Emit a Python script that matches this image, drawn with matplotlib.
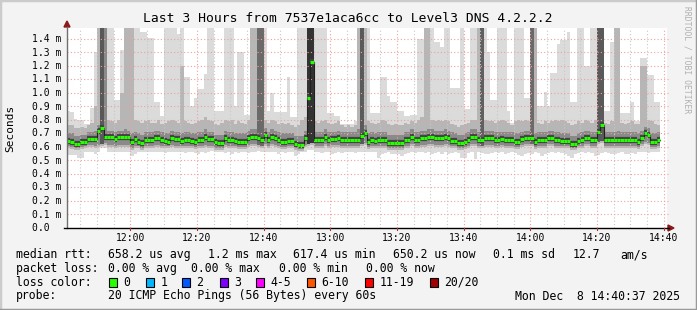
import numpy as np
import matplotlib
matplotlib.use("Agg")
import matplotlib.pyplot as plt
from matplotlib.patches import Rectangle, Polygon

W, H = 697, 310

# one value per minute from 11:41, in microseconds
median = [
    645, 640, 622, 622, 640, 640, 660, 660, 660, 720,
    742, 676, 676, 672, 657, 672, 672, 672, 672, 640,
    657, 640, 627, 652, 652, 652, 664, 664, 652, 647,
    640, 664, 657, 657, 647, 652, 652, 647, 640, 652,
    652, 672, 657, 657, 635, 632, 632, 664, 652, 652,
    647, 640, 640, 640, 664, 672, 672, 664, 652, 689,
    652, 672, 664, 652, 640, 640, 644, 644, 620, 615,
    615, 667, 960, 1230, 652, 652, 652, 677, 652, 657,
    657, 664, 652, 652, 652, 652, 652, 652, 682, 700,
    640, 652, 647, 652, 652, 652, 632, 632, 632, 632,
    627, 652, 652, 677, 652, 652, 664, 664, 672, 672,
    664, 664, 664, 677, 664, 647, 647, 632, 632, 640,
    652, 677, 677, 652, 652, 664, 664, 664, 652, 652,
    657, 652, 652, 652, 640, 640, 657, 669, 669, 669,
    640, 652, 652, 652, 669, 669, 652, 652, 647, 647,
    647, 622, 622, 647, 652, 669, 669, 652, 652, 710,
    760, 652, 652, 652, 652, 652, 652, 652, 652, 652,
    652, 640, 669, 700, 689, 640, 640, 652,
]
ping_max = [
    870, 860, 810, 800, 800, 770, 770, 890, 1300, 1500,
    1500, 1150, 1500, 1500, 950, 950, 1320, 1500, 1500, 1500,
    1500, 1500, 1450, 1450, 1410, 1410, 930, 930, 830, 1500,
    1500, 1500, 1500, 1440, 1500, 1120, 1120, 900, 960, 1030,
    1030, 1140, 1500, 1500, 870, 870, 870, 1500, 1500, 1500,
    900, 1300, 1300, 840, 840, 1500, 1500, 1500, 1500, 1500,
    870, 1000, 860, 860, 860, 860, 1120, 820, 820, 1500,
    1500, 1500, 1500, 1500, 1500, 1500, 1500, 1500, 850, 850,
    830, 830, 770, 770, 770, 770, 790, 1500, 1500, 1500,
    1500, 850, 850, 850, 1120, 1120, 980, 930, 930, 870,
    870, 830, 830, 840, 840, 1400, 1400, 1500, 1500, 1500,
    1380, 1380, 1340, 1500, 1500, 1040, 1040, 1040, 1500, 880,
    880, 1500, 1500, 1500, 1500, 1500, 1300, 950, 950, 1500,
    1500, 1500, 870, 780, 1500, 1500, 1500, 960, 960, 1500,
    1500, 900, 900, 1010, 900, 1150, 1150, 1360, 1390, 1390,
    1450, 930, 930, 1500, 1500, 1200, 1200, 1500, 1500, 1500,
    1500, 870, 870, 1380, 1500, 1500, 850, 850, 850, 930,
    790, 790, 1260, 1260, 1130, 1130, 930, 930,
]
ping_hi = [
    760, 760, 740, 740, 750, 740, 760, 780, 900, 1500,
    1500, 1500, 800, 790, 780, 800, 1000, 1500, 1500, 1500,
    800, 790, 780, 790, 800, 780, 780, 800, 770, 780,
    790, 800, 790, 780, 1200, 790, 780, 770, 780, 790,
    800, 820, 800, 790, 770, 760, 780, 800, 790, 800,
    770, 790, 780, 770, 800, 1500, 1500, 1500, 1500, 800,
    780, 800, 790, 770, 780, 770, 780, 760, 750, 760,
    800, 820, 1500, 1500, 790, 780, 790, 800, 780, 770,
    780, 790, 760, 750, 760, 750, 760, 1500, 1500, 1500,
    790, 780, 770, 780, 800, 790, 770, 760, 770, 760,
    760, 780, 770, 790, 780, 800, 820, 1500, 1500, 800,
    790, 800, 790, 800, 790, 770, 760, 750, 760, 770,
    780, 800, 800, 1500, 1500, 800, 790, 790, 780, 790,
    800, 790, 780, 760, 790, 800, 790, 800, 790, 1500,
    1500, 780, 770, 790, 780, 790, 800, 790, 800, 790,
    780, 760, 770, 790, 780, 800, 790, 780, 800, 1500,
    1500, 780, 770, 790, 1500, 1500, 780, 770, 780, 790,
    770, 770, 1200, 1200, 800, 790, 770, 760,
]
dark_hi = [
    700, 700, 680, 680, 690, 690, 710, 710, 720, 760,
    1500, 1500, 720, 720, 710, 720, 720, 730, 720, 700,
    710, 700, 690, 710, 710, 710, 720, 720, 710, 700,
    700, 720, 710, 710, 700, 710, 710, 700, 700, 710,
    710, 730, 710, 710, 690, 690, 690, 720, 710, 710,
    700, 700, 700, 700, 720, 730, 730, 1500, 1500, 740,
    710, 730, 720, 710, 700, 700, 700, 700, 680, 680,
    680, 720, 1500, 1500, 710, 710, 710, 730, 710, 710,
    710, 720, 710, 710, 710, 710, 710, 730, 1500, 760,
    700, 710, 700, 710, 710, 710, 690, 690, 690, 690,
    690, 710, 710, 730, 710, 710, 720, 720, 730, 730,
    720, 720, 720, 730, 720, 710, 700, 690, 690, 700,
    710, 730, 730, 710, 1500, 720, 720, 720, 710, 710,
    710, 710, 710, 710, 700, 700, 710, 720, 720, 1500,
    700, 710, 710, 710, 720, 720, 710, 710, 700, 700,
    700, 680, 680, 700, 710, 720, 720, 710, 710, 1500,
    1500, 710, 710, 710, 710, 720, 710, 710, 710, 710,
    710, 700, 720, 750, 740, 700, 700, 710,
]
dark_lo = [
    605, 600, 590, 590, 600, 605, 615, 615, 610, 615,
    625, 630, 615, 615, 610, 615, 615, 615, 615, 595,
    610, 605, 595, 610, 610, 610, 615, 615, 610, 605,
    605, 615, 610, 610, 605, 610, 610, 605, 600, 610,
    610, 615, 610, 610, 595, 595, 595, 615, 610, 610,
    605, 600, 600, 600, 615, 620, 620, 615, 610, 625,
    610, 620, 615, 610, 600, 600, 605, 605, 590, 585,
    585, 615, 625, 630, 610, 610, 610, 620, 610, 615,
    615, 615, 610, 610, 610, 610, 610, 610, 625, 630,
    600, 610, 605, 610, 610, 610, 595, 595, 595, 595,
    590, 610, 610, 620, 610, 610, 615, 615, 620, 620,
    615, 615, 615, 620, 615, 605, 605, 595, 595, 600,
    610, 620, 620, 610, 610, 615, 615, 615, 610, 610,
    615, 610, 610, 610, 600, 600, 615, 620, 620, 620,
    600, 610, 610, 610, 620, 620, 610, 610, 605, 605,
    605, 590, 590, 605, 610, 620, 620, 610, 610, 635,
    645, 610, 610, 610, 610, 610, 610, 610, 610, 610,
    610, 600, 620, 635, 630, 600, 600, 610,
]
ping_lo = [
    590, 585, 575, 575, 585, 590, 600, 600, 595, 600,
    610, 615, 600, 600, 595, 600, 600, 600, 600, 580,
    595, 590, 580, 595, 595, 595, 600, 600, 595, 590,
    590, 600, 595, 595, 590, 595, 595, 590, 585, 595,
    595, 600, 595, 595, 580, 580, 580, 600, 595, 595,
    590, 585, 585, 585, 600, 605, 605, 600, 595, 610,
    595, 605, 600, 595, 585, 585, 590, 590, 575, 570,
    570, 600, 610, 615, 595, 595, 595, 605, 595, 600,
    600, 600, 595, 595, 595, 595, 595, 595, 610, 615,
    585, 595, 590, 595, 595, 595, 580, 580, 580, 580,
    575, 595, 595, 605, 595, 595, 600, 600, 605, 605,
    600, 600, 600, 605, 600, 590, 590, 580, 580, 585,
    595, 605, 605, 595, 595, 600, 600, 600, 595, 595,
    600, 595, 595, 595, 585, 585, 600, 605, 605, 605,
    585, 595, 595, 595, 605, 605, 595, 595, 590, 590,
    590, 575, 575, 590, 595, 605, 605, 595, 595, 620,
    630, 595, 595, 595, 595, 595, 595, 595, 595, 595,
    595, 585, 605, 620, 615, 585, 585, 595,
]
ping_min = [
    540, 540, 540, 520, 520, 560, 560, 560, 545, 560,
    590, 590, 565, 565, 565, 565, 565, 565, 565, 530,
    550, 565, 565, 565, 565, 565, 565, 565, 565, 555,
    560, 565, 560, 560, 560, 555, 560, 565, 555, 545,
    560, 555, 560, 570, 560, 565, 560, 555, 560, 550,
    560, 555, 560, 560, 555, 560, 565, 570, 560, 565,
    560, 560, 560, 545, 560, 555, 560, 560, 535, 545,
    560, 565, 575, 575, 560, 560, 555, 560, 560, 545,
    555, 560, 555, 560, 560, 560, 555, 560, 560, 565,
    560, 560, 560, 520, 545, 555, 560, 550, 545, 545,
    530, 550, 555, 560, 555, 560, 560, 555, 560, 545,
    555, 560, 550, 560, 545, 555, 560, 555, 515, 520,
    555, 560, 510, 560, 555, 545, 550, 555, 560, 555,
    560, 545, 555, 560, 555, 540, 530, 545, 555, 550,
    560, 555, 530, 545, 555, 560, 555, 560, 555, 545,
    535, 520, 545, 555, 560, 555, 560, 555, 530, 540,
    555, 560, 555, 545, 550, 555, 560, 545, 550, 555,
    545, 560, 560, 560, 555, 560, 560, 560,
]
# minutes where most pings were slow (dark column to the top)
deep_cols = [10, 57, 58, 72, 73, 88, 124, 139, 159, 160]
deep_shade = ["#585858", "#6a6a6a", "#6a6a6a", "#333333", "#333333",
              "#5a5a5a", "#606060", "#6a6a6a", "#5a5a5a", "#5a5a5a"]

tick_minutes = [19, 39, 59, 79, 99, 119, 139, 159, 179]
tick_labels = ["12:00", "12:20", "12:40", "13:00", "13:20", "13:40", "14:00", "14:20", "14:40"]
y_ticks = [0.0, 0.1, 0.2, 0.3, 0.4, 0.5, 0.6, 0.7, 0.8, 0.9, 1.0, 1.1, 1.2, 1.3, 1.4]

loss_labels = ["0", "1", "2", "3", "4-5", "6-10", "11-19", "20/20"]
loss_colors = ["#26ff00", "#00b8ff", "#0059ff", "#7e00ff", "#ff00ff", "#ff5500", "#ff0000", "#a00000"]
loss_box_x = [109, 146, 182, 220, 256, 307, 365, 430]

mono = "DejaVu Sans Mono"
fig = plt.figure(figsize=(W / 100, H / 100), dpi=100, facecolor="#f3f3f3")


def fx(x):
    return x / W


def fy(y):
    return 1 - y / H


ax = fig.add_axes([fx(67), fy(228), 600 / W, 200 / H])
ax.set_facecolor("white")
ax.set_xlim(0, 180)
ax.set_ylim(0, 1.48148)
for s in ax.spines.values():
    s.set_visible(False)
ax.set_xticks([])
ax.set_yticks([])

n = len(median)
xe = np.arange(n + 1)


def ms(a):
    a = np.asarray(a, dtype=float) / 1000
    return np.append(a, a[-1])


ax.fill_between(xe, ms(ping_min), ms(ping_max), step="post", color="#dbdbdb", lw=0, zorder=1)
ax.fill_between(xe, ms(ping_lo), ms(ping_hi), step="post", color="#b6b6b6", lw=0, zorder=2)
ax.fill_between(xe, ms(dark_lo), ms(dark_hi), step="post", color="#8a8a8a", lw=0, zorder=3)
for m, c in zip(deep_cols, deep_shade):
    ax.fill_between([m, m + 1], dark_lo[m] / 1000, 1.5, color=c, lw=0, zorder=4)

med = np.asarray(median) / 1000
ax.hlines(med, np.arange(n), np.arange(n) + 1, color="#444444", lw=4.5, zorder=5)

# grid
for m in range(4, 180, 5):
    if m in tick_minutes:
        continue
    ax.axvline(m, color="#c8c8c8", lw=0.8, ls=(0, (1, 2)), zorder=6)
for m in tick_minutes:
    ax.axvline(m, color="#f0a0a0", lw=0.8, ls=(0, (1, 2)), zorder=6)
for v in y_ticks[1:]:
    ax.plot([0, 180.3], [v, v], color="#f0a0a0", lw=0.8, ls=(0, (1, 2)), zorder=6, clip_on=False)

ax.step(xe, ms(median), where="post", color="#202020", lw=0.8, zorder=7)
ax.hlines(med, np.arange(n), np.arange(n) + 1, color="#26ff00", lw=2.2, zorder=8)

# axes lines and arrows
fig.add_artist(plt.Line2D([fx(67), fx(67)], [fy(228), fy(27)], color="#707070", lw=1))
fig.add_artist(plt.Line2D([fx(64), fx(669)], [fy(228), fy(228)], color="black", lw=1))
fig.add_artist(Polygon([[fx(64), fy(27)], [fx(70), fy(27)], [fx(67), fy(21)]], closed=True, color="#8b1a1a"))
fig.add_artist(Polygon([[fx(668), fy(225)], [fx(668), fy(231)], [fx(674), fy(228)]], closed=True, color="#8b1a1a"))

for m, lab in zip(tick_minutes, tick_labels):
    x = 67 + m * 600 / 180
    fig.text(fx(x), fy(238), lab, family=mono, fontsize=7, ha="center", va="center", color="black")
    fig.add_artist(plt.Line2D([fx(x), fx(x)], [fy(228), fy(230)], color="#b03030", lw=0.8))

for v in y_ticks:
    y = 228 - v * 135
    lab = "%.1f m" % v if v > 0 else "0.0  "
    fig.text(fx(61), fy(y), lab, family=mono, fontsize=7, ha="right", va="center", color="black")

fig.text(fx(347.5), fy(19), "Last 3 Hours from 7537e1aca6cc to Level3 DNS 4.2.2.2",
         family=mono, fontsize=9.4, ha="center", va="center", color="black")
fig.text(fx(10), fy(128), "Seconds", family=mono, fontsize=8, rotation=90,
         ha="center", va="center", color="black")
fig.text(fx(687), fy(60), "RRDTOOL / TOBI OETIKER", family=mono, fontsize=5.8, rotation=270,
         ha="center", va="center", color="#b0b0b0")

# legend rows
fs = 8.3
row1 = [(16, "median rtt:"), (107.6, "658.2 us avg"), (207.6, "1.2 ms max"), (293.3, "617.4 us min"),
        (393.3, "650.2 us now"), (493.3, "0.1 ms sd"), (572.7, "12.7"), (620.7, "am/s")]
row2 = [(16, "packet loss:"), (107.6, "0.00 % avg"), (191, "0.00 % max"), (279, "0.00 % min"), (365.5, "0.00 % now")]
for x, t in row1:
    fig.text(fx(x), fy(254.7), t, family=mono, fontsize=fs, ha="left", va="center", color="black")
for x, t in row2:
    fig.text(fx(x), fy(268.3), t, family=mono, fontsize=fs, ha="left", va="center", color="black")
fig.text(fx(16), fy(282.3), "loss color:", family=mono, fontsize=fs, ha="left", va="center", color="black")
for x, lab, c in zip(loss_box_x, loss_labels, loss_colors):
    fig.add_artist(Rectangle((fx(x), fy(287)), 8 / W, 9 / H, facecolor=c, edgecolor="black", lw=0.8))
    fig.text(fx(x + 14.5), fy(282.3), lab, family=mono, fontsize=fs, ha="left", va="center", color="black")
fig.text(fx(16), fy(296), "probe:", family=mono, fontsize=fs, ha="left", va="center", color="black")
fig.text(fx(107.6), fy(296), "20 ICMP Echo Pings (56 Bytes) every 60s", family=mono, fontsize=fs,
         ha="left", va="center", color="black")
fig.text(fx(680), fy(296), "Mon Dec  8 14:40:37 2025", family=mono, fontsize=fs,
         ha="right", va="center", color="black")

# 3d frame
fig.add_artist(plt.Line2D([0, 0, 1], [0, 1, 1], transform=fig.transFigure, color="#cbcbcb", lw=2.5))
fig.add_artist(plt.Line2D([0, 1, 1], [0, 0, 1], transform=fig.transFigure, color="#999999", lw=2.5))

fig.savefig("out.png", dpi=100, facecolor=fig.get_facecolor())
